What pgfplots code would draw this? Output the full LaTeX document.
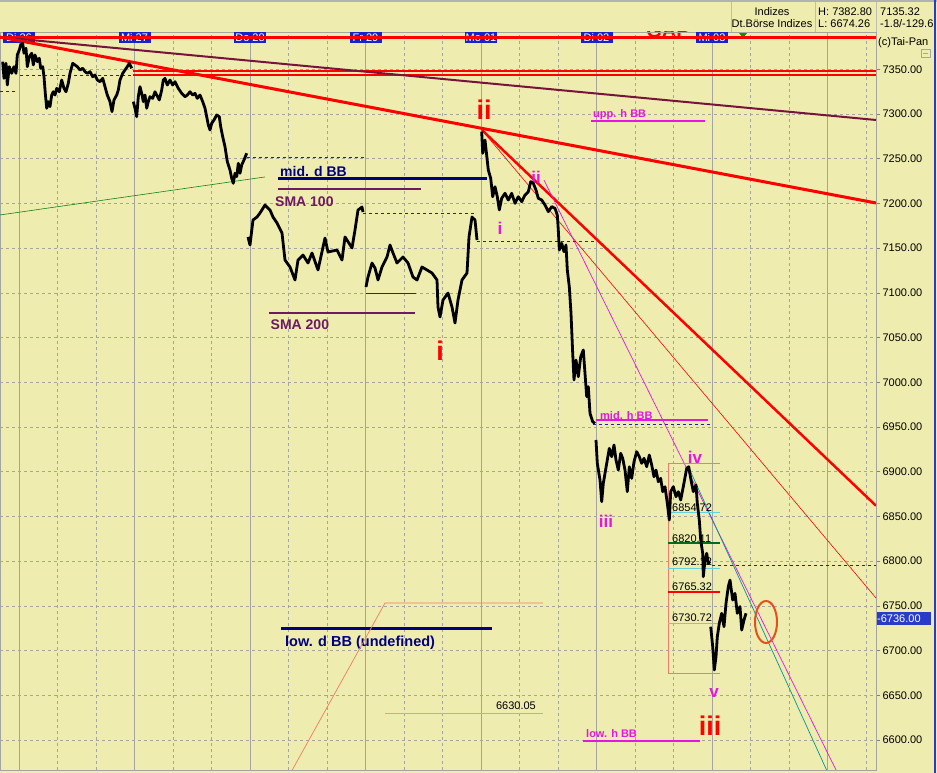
\documentclass[border=0pt]{standalone}
\usepackage{pgfplots}
\pgfplotsset{compat=1.18}
\usepackage{fontspec}
\setmainfont{Liberation Sans}
\definecolor{bg}{RGB}{238,236,174}
\definecolor{navy}{RGB}{0,0,128}
\definecolor{gapblue}{RGB}{30,30,190}
\definecolor{maroon}{RGB}{120,20,60}
\definecolor{smapurple}{RGB}{110,25,100}
\definecolor{mag}{RGB}{230,20,230}
\definecolor{datebox}{RGB}{25,35,200}
\definecolor{salmon}{RGB}{240,125,105}
\definecolor{fibcyan}{RGB}{100,210,220}
\definecolor{fibgreen}{RGB}{0,110,30}
\definecolor{gridgray}{RGB}{165,165,160}
\definecolor{tealline}{RGB}{0,150,150}
\definecolor{ovalorange}{RGB}{230,80,30}
\definecolor{sepgray}{RGB}{190,190,180}
\definecolor{frameblue}{RGB}{40,60,200}
\definecolor{trendgreen}{RGB}{20,130,20}
\begin{document}
\begin{tikzpicture}[x=1pt,y=1pt]
\fill[bg] (0,0) rectangle (937,773);
\useasboundingbox (0,0) rectangle (937,773);
% header
\draw[gray!60, line width=2pt] (0,772) -- (937,772);
\draw[sepgray, line width=0.8pt] (731,741) -- (731,771) (815,741) -- (815,771) (876,741) -- (876,771);
\node[anchor=base, font=\fontsize{11}{13}\selectfont, inner sep=0pt] at (772,757) {Indizes};
\node[anchor=base, font=\fontsize{11}{13}\selectfont, inner sep=0pt] at (772,745) {Dt.Börse Indizes};
\node[anchor=base west, font=\fontsize{11}{13}\selectfont, inner sep=0pt] at (818,757) {H: 7382.80};
\node[anchor=base west, font=\fontsize{11}{13}\selectfont, inner sep=0pt] at (818,745) {L: 6674.26};
\node[anchor=base west, font=\fontsize{11}{13}\selectfont, inner sep=0pt] at (880,757) {7135.32};
\node[anchor=base west, font=\fontsize{11}{13}\selectfont, inner sep=0pt] at (880,745) {-1.8/-129.6};
\node[anchor=base west, font=\fontsize{11}{13}\selectfont, inner sep=0pt] at (878,727) {(c)Tai-Pan};
\draw[gray!70, line width=0.6pt] (921,716) rectangle (930,724);
\draw[gray!70, line width=0.6pt] (923,720) -- (928,720);
\fill[green!60!black] (739,740) -- (747,740) -- (743,735) -- cycle;
\begin{scope}
\clip (0,3) rectangle (876,741);
\node[anchor=base, text=red, font=\fontsize{20}{22}\selectfont\bfseries, inner sep=0pt] at (668,735) {GAP};
\end{scope}
\begin{axis}[
  at={(0pt,3pt)}, anchor=south west,
  scale only axis, width=876pt, height=738pt,
  xmin=0, xmax=876, ymin=6566.5, ymax=7391.7,
  axis line style={draw=gridgray},
  xtick={19,134.5,250,365.5,481,596.5,712,827.5},
  minor xtick={57.5,96,173,211.5,288.5,327,404,442.5,519.5,558,635,673.5,750.5,789,866},
  xticklabels={},
  xmajorgrids, xminorgrids, ymajorgrids,
  major x grid style={draw=gridgray, line width=0.8pt},
  minor x grid style={draw=gridgray, dash pattern=on 3pt off 3pt, line width=0.6pt},
  major y grid style={draw=gridgray, dash pattern=on 3pt off 3pt, line width=0.6pt},
  ytick={6600,6650,...,7350},
  ytick pos=right, yticklabel pos=right,
  tick align=outside,
  major tick length=4pt, minor tick length=0pt,
  xtick style={draw=none},
  ytick style={draw=gray, line width=0.6pt},
  yticklabel style={font=\fontsize{11}{13}\selectfont, xshift=-1pt, /pgf/number format/.cd, fixed, fixed zerofill, precision=2, 1000 sep={}, assume math mode=true},
]
% date boxes
\foreach \xx/\lab in {19/Di 26,134.5/Mi 27,250/Do 28,365.5/Fr 29,481/Mo 01,596.5/Di 02,712/Mi 03}{
  \edef\temp{\noexpand\node[fill=datebox, text=white, font=\noexpand\fontsize{11}{12}\noexpand\selectfont, inner sep=0pt, minimum width=32pt, minimum height=11pt] at (axis cs:\xx,7385.5) {\lab};}
  \temp
}
% horizontal resistance lines
\addplot[red, line width=3pt] coordinates {(0,7385) (876,7385)};
\addplot[red, line width=2pt] coordinates {(133,7348.4) (876,7348.4)};
\addplot[red, line width=2pt] coordinates {(133,7344) (876,7344)};
% trend lines
\addplot[maroon, line width=2pt] coordinates {(0,7386) (876,7293.3)};
\addplot[red, line width=3pt] coordinates {(0,7386) (876,7200.5)};
\addplot[red, line width=2.5pt] coordinates {(482,7282) (876,6862)};
\addplot[red, line width=0.6pt] coordinates {(482,7282) (876,6758.8)};
\addplot[mag, line width=0.7pt] coordinates {(544,7226) (840,6557.5)};
\addplot[tealline, line width=0.7pt] coordinates {(688,6906.4) (828,6563)};
\addplot[trendgreen, line width=0.6pt] coordinates {(0,7187.1) (265,7229.6)};
% gap lines
\addplot[gapblue, dash pattern=on 3pt off 3pt, line width=0.8pt] coordinates {(20,7343.6) (133,7343.6)};
\addplot[gapblue, dash pattern=on 3pt off 3pt, line width=0.8pt] coordinates {(0,7325.7) (18,7325.7)};
\addplot[gapblue, dash pattern=on 3pt off 3pt, line width=0.8pt] coordinates {(247,7251.9) (365,7251.9)};
\addplot[gapblue, dash pattern=on 3pt off 3pt, line width=0.8pt] coordinates {(363,7189.3) (475,7189.3)};
\addplot[gapblue, dash pattern=on 3pt off 3pt, line width=0.8pt] coordinates {(477,7158) (597,7158)};
\addplot[gapblue, dash pattern=on 3pt off 3pt, line width=0.8pt] coordinates {(593,6953.3) (710,6953.3)};
\addplot[gapblue, dash pattern=on 3pt off 3pt, line width=0.8pt] coordinates {(712,6795.7) (876,6795.7)};
\addplot[gapblue, line width=0.8pt] coordinates {(366,7099.8) (416,7099.8)};
% indicator label lines
\addplot[mag, line width=2.5pt] coordinates {(591,7292.2) (705,7292.2)};
\addplot[mag, line width=2.5pt] coordinates {(596,6957.8) (708,6957.8)};
\addplot[mag, line width=2.5pt] coordinates {(583,6598.9) (700,6598.9)};
\addplot[navy, line width=3pt] coordinates {(278,7228.4) (487,7228.4)};
\addplot[smapurple, line width=2pt] coordinates {(278,7216.1) (421,7216.1)};
\addplot[smapurple, line width=2pt] coordinates {(269,7077.5) (415,7077.5)};
\addplot[navy, line width=3pt] coordinates {(281,6725.2) (492,6725.2)};
\node[anchor=base west, text=navy, font=\fontsize{14}{16}\selectfont\bfseries, inner sep=0pt] at (axis cs:280,7230.1) {mid. d BB};
\node[anchor=base west, text=smapurple, font=\fontsize{14}{16}\selectfont\bfseries, inner sep=0pt] at (axis cs:275,7197.1) {SMA 100};
\node[anchor=base west, text=smapurple, font=\fontsize{14}{16}\selectfont\bfseries, inner sep=0pt] at (axis cs:270.5,7058.5) {SMA 200};
\node[anchor=base west, text=navy, font=\fontsize{14.5}{16}\selectfont\bfseries, inner sep=0pt] at (axis cs:285,6705.1) {low. d BB (undefined)};
\node[anchor=base west, text=mag, font=\fontsize{11}{12}\selectfont\bfseries, inner sep=0pt] at (axis cs:593,7296.6) {upp. h BB};
\node[anchor=base west, text=mag, font=\fontsize{11}{12}\selectfont\bfseries, inner sep=0pt] at (axis cs:600,6958.9) {mid. h BB};
\node[anchor=base west, text=mag, font=\fontsize{11}{12}\selectfont\bfseries, inner sep=0pt] at (axis cs:586,6603.3) {low. h BB};
% fibonacci box
\addplot[salmon, line width=0.7pt] coordinates {(720,6909) (668,6909) (668,6674.3) (720,6674.3)};
\addplot[fibcyan, line width=1pt] coordinates {(668,6854.72) (720,6854.72)};
\addplot[fibgreen, line width=2pt] coordinates {(668,6820.11) (720,6820.11)};
\addplot[fibcyan, line width=1pt] coordinates {(668,6792.12) (720,6792.12)};
\addplot[red, line width=2pt] coordinates {(668,6765.32) (720,6765.32)};
\addplot[fibcyan, line width=1pt] coordinates {(668,6730.72) (720,6730.72)};
\node[anchor=base west, font=\fontsize{11}{13}\selectfont, inner sep=0pt] at (axis cs:672,6856) {6854.72};
\node[anchor=base west, font=\fontsize{11}{13}\selectfont, inner sep=0pt] at (axis cs:672,6821.4) {6820.11};
\node[anchor=base west, font=\fontsize{11}{13}\selectfont, inner sep=0pt] at (axis cs:672,6794.6) {6792.12};
\node[anchor=base west, font=\fontsize{11}{13}\selectfont, inner sep=0pt] at (axis cs:672,6767.7) {6765.32};
\node[anchor=base west, font=\fontsize{11}{13}\selectfont, inner sep=0pt] at (axis cs:672,6732) {6730.72};
% lower projection
\addplot[salmon, line width=0.7pt] coordinates {(290.5,6563) (385,6753.2) (543,6753.2)};
\addplot[fibcyan, line width=0.8pt] coordinates {(385,6630.2) (543,6630.2)};
\node[anchor=base east, font=\fontsize{11}{13}\selectfont, inner sep=0pt] at (axis cs:536,6633.6) {6630.05};
% wave labels
\node[anchor=base, text=red, font=\fontsize{27}{30}\selectfont\bfseries, inner sep=0pt] at (axis cs:484,7293.3) {ii};
\node[anchor=base, text=red, font=\fontsize{27}{30}\selectfont\bfseries, inner sep=0pt] at (axis cs:440,7024.9) {i};
\node[anchor=base, text=red, font=\fontsize{27}{30}\selectfont\bfseries, inner sep=0pt] at (axis cs:710,6605.6) {iii};
\node[anchor=base, text=mag, font=\fontsize{17}{19}\selectfont\bfseries, inner sep=0pt] at (axis cs:536,7222.8) {ii};
\node[anchor=base, text=mag, font=\fontsize{17}{19}\selectfont\bfseries, inner sep=0pt] at (axis cs:500,7165.8) {i};
\node[anchor=base, text=mag, font=\fontsize{17}{19}\selectfont\bfseries, inner sep=0pt] at (axis cs:606,6837.1) {iii};
\node[anchor=base, text=mag, font=\fontsize{17}{19}\selectfont\bfseries, inner sep=0pt] at (axis cs:695,6909.7) {iv};
\node[anchor=base, text=mag, font=\fontsize{17}{19}\selectfont\bfseries, inner sep=0pt] at (axis cs:714,6648.1) {v};
\draw[ovalorange, line width=2pt] (axis cs:766,6732) ellipse [x radius=11pt, y radius=21pt];
% price path (one segment per trading day)
\addplot[black, line width=2.8pt, line join=round] coordinates {
(2.7,7358.5) (4,7339.9) (6,7356.7) (7.3,7332.4) (9.3,7352.9) (11.7,7345.5) (14,7352.9) (16,7345.5) (17.3,7366.0) (19.3,7371.6) (20.7,7377.2) (22.7,7379.1) (24,7367.9) (26,7373.5) (27.3,7352.9) (29.3,7364.1) (31.7,7367.9) (33.3,7354.8) (35,7366.0) (37.3,7358.5) (39.3,7362.3) (40.7,7351.1) (42.7,7352.9) (44,7341.7) (45.3,7323.1) (46.7,7306.4) (48.3,7313.8) (50,7308.2) (51.7,7321.2) (53.3,7324.9) (55,7321.2) (56.7,7328.7) (59.3,7324.9) (61.7,7338.0) (64,7328.7) (66,7324.9) (68.3,7334.3) (70,7345.5) (72.7,7356.7) (75,7354.8) (77.3,7352.9) (80,7349.2) (82.7,7351.1) (85,7347.3) (87.3,7345.5) (90,7347.3) (92.7,7341.7) (95,7343.6) (97.3,7338.0) (100,7336.1) (102.7,7339.9) (105,7330.5) (107.3,7321.2) (110,7313.8) (112,7302.6) (114,7315.7) (116.7,7321.2) (118.3,7326.8) (120,7338.0) (122.7,7345.5) (125,7349.2) (127.3,7352.9) (129.3,7356.7) (131.7,7351.1)};
\addplot[black, line width=2.8pt, line join=round] coordinates {
(133.3,7313.8) (135,7306.4) (136.7,7297.0) (138.3,7319.3) (140,7330.5) (141.7,7323.1) (143.3,7313.8) (145,7321.2) (146.7,7306.4) (148.3,7313.8) (150,7319.3) (152.7,7317.5) (155,7324.9) (156.7,7321.2) (159.3,7315.7) (161.7,7326.8) (163.3,7338.0) (165,7339.9) (167.3,7332.4) (170,7338.0) (172.7,7332.4) (175,7336.1) (178.3,7328.7) (181.7,7323.1) (185,7319.3) (187.3,7321.2) (190,7324.9) (192.7,7321.2) (195,7323.1) (197.3,7317.5) (200,7321.2) (202.7,7313.8) (205,7306.4) (206.7,7297.0) (208.3,7287.7) (210,7282.1) (211.7,7289.6) (214,7293.3) (216.7,7298.9) (219.3,7297.0) (220.7,7285.8) (222.7,7274.6) (225,7263.4) (227.3,7246.7) (230,7237.4) (231.7,7228.1) (233.3,7222.5) (235,7233.7) (236.7,7229.9) (238.3,7244.9) (240,7233.7) (241.7,7243.0) (244,7248.6) (246.7,7256.1)};
\addplot[black, line width=2.8pt, line join=round] coordinates {
(248,7162.5) (250,7153.5) (253,7181.5) (257,7184.8) (260,7189.3) (265,7198.2) (270,7192.6) (273,7184.8) (277,7178.1) (282,7166.9) (285,7136.7) (290,7128.9) (295,7114.4) (298,7136.7) (303,7142.3) (308,7133.4) (312,7144.6) (318,7125.6) (325,7161.3) (328,7145.7) (337,7147.9) (342,7136.7) (345,7162.5) (352,7150.2) (355,7170.3) (358,7192.6) (362,7196.0) (363,7190.4)};
\addplot[black, line width=2.8pt, line join=round] coordinates {
(366,7106.6) (368,7117.7) (372,7133.4) (375,7127.8) (378,7114.4) (382,7128.9) (387,7140.1) (390,7153.5) (393,7144.6) (397,7133.4) (403,7140.1) (408,7133.4) (413,7117.7) (417,7114.4) (422,7128.9) (427,7125.6) (432,7122.2) (437,7114.4) (438,7084.2) (440,7073.0) (443,7092.0) (448,7099.8) (452,7084.2) (455,7066.3) (458,7092.0) (462,7114.4) (467,7122.2) (469,7162.5) (472,7184.8) (475,7181.5) (477,7159.1)};
\addplot[black, line width=2.8pt, line join=round] coordinates {
(481.7,7280.2) (482.7,7256.1) (485,7270.9) (488.3,7237.4) (490.7,7228.1) (492.7,7207.5) (495,7218.7) (497.3,7207.5) (499.3,7192.7) (501.7,7205.7) (505,7211.3) (508.3,7203.8) (511.7,7211.3) (515,7200.1) (518.3,7207.5) (521.7,7201.9) (525,7209.4) (528.3,7213.1) (530.7,7224.3) (533.3,7222.5) (536,7215.0) (538.3,7205.7) (541.7,7203.8) (545,7198.2) (548.3,7190.8) (551.7,7196.4) (555,7194.5) (557.3,7187.1) (558.3,7170.3) (559.3,7147.9) (561.7,7155.4) (564,7146.0) (566,7153.5) (567.3,7125.6) (569.3,7106.9) (571,7077.1) (572.7,7032.4) (574,7002.6) (576,7024.9) (578.3,7006.2) (580.7,7028.6) (583.3,7036.1) (585,7010.0) (586.7,6983.9) (588.3,6995.1) (590,6965.3) (592.7,6955.9) (595,6954.1)};
\addplot[black, line width=2.8pt, line join=round] coordinates {
(596,6935.5) (597.3,6909.4) (600,6890.7) (601.7,6866.5) (603.3,6887.0) (605,6898.2) (607.3,6913.1) (609.3,6926.2) (611.7,6916.8) (614,6929.9) (616,6913.1) (618.3,6901.9) (620.7,6920.6) (622.7,6915.0) (625,6901.9) (627.3,6877.7) (629.3,6905.6) (631.7,6892.6) (634,6911.2) (636.7,6922.4) (639.3,6916.8) (641.7,6909.4) (644,6915.0) (646.7,6905.6) (649.3,6918.7) (651.7,6907.5) (654,6894.4) (656,6901.9) (658.3,6888.9) (660.7,6892.6) (662.7,6877.7) (665,6883.3) (667.3,6864.7) (669.3,6846.0) (670.7,6877.7) (673.3,6883.3) (676,6872.1) (678.3,6877.7) (680.7,6868.4) (683.3,6883.3) (686.7,6903.8) (688.7,6905.6) (690.7,6892.6) (693.3,6877.7) (696,6885.2) (697.3,6864.7) (699.3,6846.0) (700.7,6823.7) (702.7,6808.8) (703.3,6782.7) (705,6801.3) (706.7,6808.8) (708.3,6797.6) (710,6799.4)};
\addplot[black, line width=2.8pt, line join=round] coordinates {
(710.7,6726.7) (712.7,6704.4) (714.3,6678.3) (716,6693.2) (717.3,6715.5) (719.3,6730.5) (721.7,6741.7) (724,6726.7) (726,6752.8) (728.3,6771.5) (730,6778.9) (732.7,6756.5) (735,6764.0) (737.3,6741.7) (740,6749.2) (741.7,6723.0) (744,6734.2) (746,6741.7)};
\end{axis}
% current price marker on right scale
\fill[frameblue] (877,148) rectangle (931,161);
\node[anchor=base west, text=white, font=\fontsize{11}{13}\selectfont, inner sep=0pt] at (877,150.5) {-6736.00};
\draw[frameblue, line width=2pt] (935,0) -- (935,773);
\end{tikzpicture}
\end{document}
